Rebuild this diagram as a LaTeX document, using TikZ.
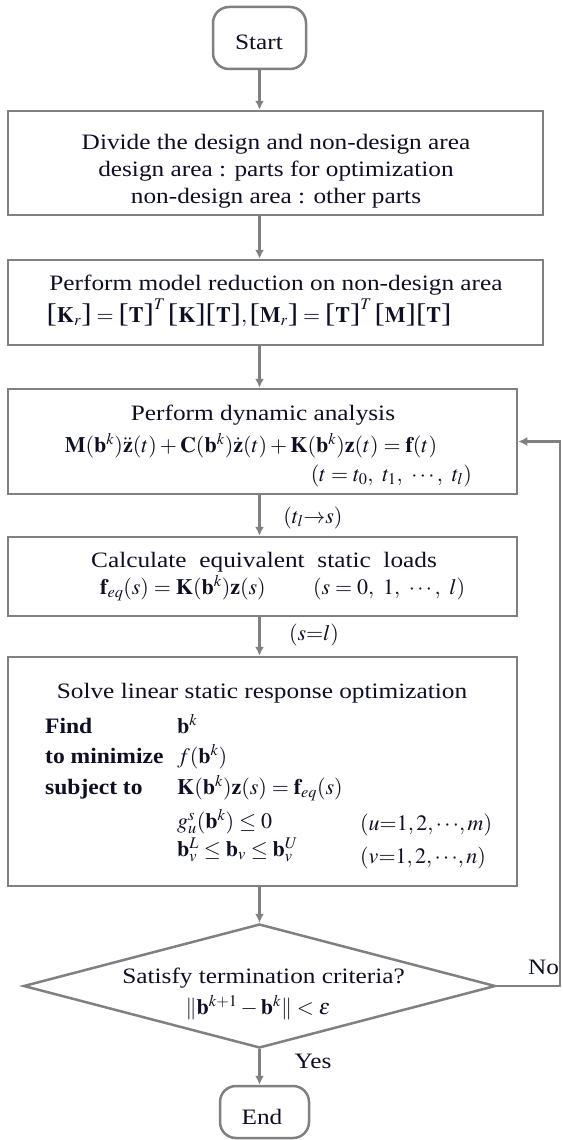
\documentclass[tikz,border=0pt]{standalone}
\usepackage{mathptmx}
\usepackage{fontspec}
\setmainfont{Liberation Serif}[FakeStretch=1.15]
\newfontfamily\boldstr{Liberation Serif Bold}[FakeStretch=1.07]
\usetikzlibrary{arrows.meta,shapes.geometric}
\definecolor{linec}{RGB}{128,128,128}
\definecolor{txtc}{RGB}{15,15,35}
\newcommand{\vb}[1]{\mathbf{#1}}
\newcommand{\lbk}{\mathopen{\mbox{\fontsize{27}{27}\selectfont[}}}
\newcommand{\rbk}{\mathclose{\mbox{\fontsize{27}{27}\selectfont]}}}
\begin{document}
\begin{tikzpicture}[x=1pt,y=-1pt,
  box/.style={draw=linec, line width=2.5pt, rectangle, inner sep=0pt},
  term/.style={draw=linec, line width=2.5pt, rectangle, rounded corners=16pt, inner sep=0pt},
  dia/.style={draw=linec, line width=2.5pt, diamond, aspect=3.8, inner sep=0pt},
  txt/.style={inner sep=0pt, text=txtc, anchor=base, font=\fontsize{22}{27}\selectfont},
  arr/.style={draw=linec, line width=2.5pt, -{Latex[length=9pt,width=9pt]}},
  ln/.style={draw=linec, line width=2.5pt}]
\useasboundingbox (0,0) rectangle (562,1140);
% shapes
\node[term, minimum width=93pt, minimum height=62pt] (start) at (259.5,38) {};
\node[box, minimum width=535pt, minimum height=104pt] (b1) at (275.5,163) {};
\node[box, minimum width=535pt, minimum height=85pt] (b2) at (275.5,302.5) {};
\node[box, minimum width=509pt, minimum height=105pt] (b3) at (262.5,441.5) {};
\node[box, minimum width=509pt, minimum height=79pt] (b4) at (262.5,576.5) {};
\node[box, minimum width=509pt, minimum height=229pt] (b5) at (262.5,771.5) {};
\node[dia, minimum width=472pt, minimum height=124pt] (d) at (259.5,986) {};
\node[term, minimum width=89pt, minimum height=52pt] (end) at (264.5,1112) {};
% texts
\node[txt] (tstart) at (259,49) {Start};
\node[txt] (t1a) at (276,149) {Divide the design and non-design area};
\node[txt] (t1b) at (276,176) {design area : parts for optimization};
\node[txt] (t1c) at (276,203) {non-design area : other parts};
\node[txt] (t2a) at (276,290) {Perform model reduction on non-design area};
\node[txt] (t2b) at (249,322) {$\lbk\vb{K}_r\rbk=\lbk\vb{T}\rbk^T\,\lbk\vb{K}\rbk\lbk\vb{T}\rbk,\lbk\vb{M}_r\rbk=\lbk\vb{T}\rbk^T\,\lbk\vb{M}\rbk\lbk\vb{T}\rbk$};
\node[txt] (t3a) at (263,420) {Perform dynamic analysis};
\node[txt] (t3b) at (251,452) {$\vb{M}(\vb{b}^k)\ddot{\vb{z}}(t)+\vb{C}(\vb{b}^k)\dot{\vb{z}}(t)+\vb{K}(\vb{b}^k)\vb{z}(t)=\vb{f}(t)$};
\node[txt, anchor=base east] (t3c) at (472,481) {$(t=t_0,\ t_1,\ \cdots,\ t_l)$};
\node[txt] (lab1) at (313,523) {$(t_l{\rightarrow}s)$};
\node[txt] (t4a) at (264,567) {Calculate\ \ equivalent\ \ static\ \ loads};
\node[txt, anchor=base west] (t4b) at (100,594) {$\vb{f}_{eq}(s)=\vb{K}(\vb{b}^k)\vb{z}(s)$};
\node[txt, anchor=base west] (t4c) at (313,594) {$(s=0,\ 1,\ \cdots,\ l)$};
\node[txt] (lab2) at (314,640) {$(s{=}l)$};
\node[txt] (t5a) at (262,698) {Solve linear static response optimization};
\node[txt, anchor=base west] (t5l1) at (45,733) {\boldstr Find};
\node[txt, anchor=base west] (t5l2) at (45,763) {\boldstr to minimize};
\node[txt, anchor=base west] (t5l3) at (45,794) {\boldstr subject to};
\node[txt, anchor=base west] (t5m1) at (177,733) {$\vb{b}^k$};
\node[txt, anchor=base west] (t5m2) at (177,763) {$f(\vb{b}^k)$};
\node[txt, anchor=base west] (t5m3) at (177,794) {$\vb{K}(\vb{b}^k)\vb{z}(s)=\vb{f}_{eq}(s)$};
\node[txt, anchor=base west] (t5m4) at (177,828) {$g^s_u(\vb{b}^k)\leq 0$};
\node[txt, anchor=base west] (t5m5) at (177,856) {$\vb{b}^L_v\leq\vb{b}_v\leq\vb{b}^U_v$};
\node[txt, anchor=base west] (t5r1) at (360,830) {$(u{=}1,2,{\cdots},m)$};
\node[txt, anchor=base west] (t5r2) at (360,863) {$(v{=}1,2,{\cdots},n)$};
\node[txt] (td1) at (263.5,983) {Satisfy termination criteria?};
\node[txt] (td2) at (258,1014) {$\|\vb{b}^{k+1}-\vb{b}^k\|<\varepsilon$};
\node[txt, anchor=base west] (no) at (528,974) {No};
\node[txt] (yes) at (313,1068) {Yes};
\node[txt] (tend) at (262,1124) {End};
% connectors
\draw[arr] (start.south) -- (start.south |- b1.north);
\draw[arr] (start.south |- b1.south) -- (start.south |- b2.north);
\draw[arr] (start.south |- b2.south) -- (start.south |- b3.north);
\draw[arr] (start.south |- b3.south) -- (start.south |- b4.north);
\draw[arr] (start.south |- b4.south) -- (start.south |- b5.north);
\draw[arr] (start.south |- b5.south) -- (d.north);
\draw[arr] (d.south) -- (d.south |- end.north);
\coordinate (fb) at (560,986);
\draw[arr] (d.east) -- (fb) |- (b3.east);
\end{tikzpicture}
\end{document}
